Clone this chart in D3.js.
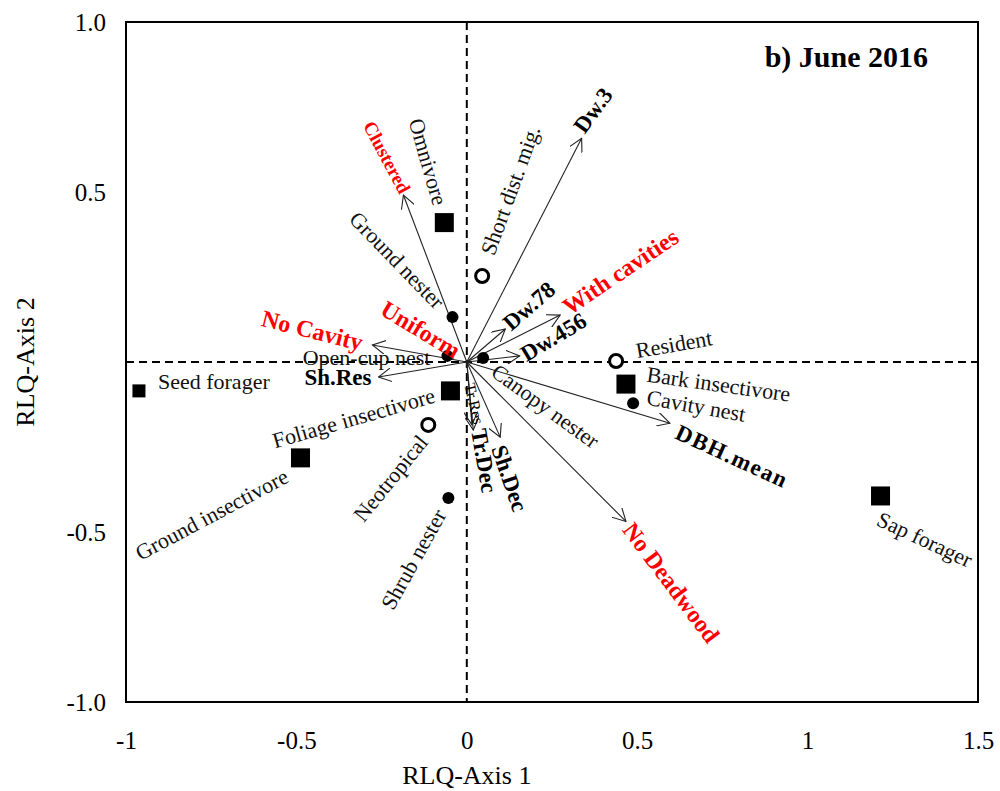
<!DOCTYPE html>
<html>
<head>
<meta charset="utf-8">
<script src="https://cdn.jsdelivr.net/npm/d3@7"></script>
<style>
  body { margin: 0; background: #fff; }
  text { font-family: "Liberation Serif", "Times New Roman", serif; }
</style>
</head>
<body>
<div id="chart"></div>
<script>
// species traits (Q table scores)
const traitNames = ["Omnivore", "Foliage insectivore", "Ground insectivore", "Bark insectivore", "Sap forager", "Seed forager",
  "Short dist. mig.", "Neotropical", "Resident",
  "Ground nester", "Open-cup nest", "Canopy nester", "Cavity nest", "Shrub nester"];
const traitAxis1 = [-0.066, -0.048, -0.488, 0.467, 1.214, -0.962, 0.045, -0.113, 0.438, -0.042, -0.057, 0.048, 0.488, -0.054];
const traitAxis2 = [0.41, -0.085, -0.282, -0.065, -0.394, -0.085, 0.253, -0.185, 0.003, 0.132, 0.018, 0.012, -0.121, -0.4];
const traitGroup = ["diet", "diet", "diet", "diet", "diet", "diet", "migration", "migration", "migration",
  "nest", "nest", "nest", "nest", "nest"];

// environmental variables (R table vectors)
const envNames = ["Dw.3", "With cavities", "Dw.78", "Dw.456", "DBH.mean", "No Deadwood", "Sh.Dec", "Tr.Dec", "Tr.Res",
  "Sh.Res", "No Cavity", "Clustered", "Uniform"];
const envAxis1 = [0.337, 0.274, 0.113, 0.155, 0.596, 0.467, 0.098, 0.019, 0.015, -0.259, -0.277, -0.186, 0];
const envAxis2 = [0.658, 0.138, 0.097, 0.018, -0.18, -0.469, -0.221, -0.2, -0.185, -0.044, 0.05, 0.491, 0];
const envKind = ["numeric", "factor", "numeric", "numeric", "numeric", "factor", "numeric", "numeric", "numeric",
  "numeric", "factor", "factor", "factor"];

const xTicks = [-1, -0.5, 0, 0.5, 1, 1.5];
const yTicks = [1, 0.5, -0.5, -1];

const width = 1000;
const height = 791;
const margin = { top: 22, right: 22, bottom: 89, left: 126 };

// label placement: [dx, dy, angle, anchor] from the mark in pixels
const traitLabelPos = {
  "Omnivore": [-4, -18, 74, "end"],
  "Foliage insectivore": [-16, 4, -16, "end"],
  "Ground insectivore": [-14, 17, -28, "end"],
  "Bark insectivore": [21, -10, 8, "start"],
  "Sap forager": [-2, 22, 25, "start"],
  "Seed forager": [19, -9, 0, "start"],
  "Short dist. mig.": [5, -22, -70, "start"],
  "Neotropical": [-5, 13, -51, "end"],
  "Resident": [20, -10, -10, "start"],
  "Ground nester": [-12, -12, 46, "end"],
  "Open-cup nest": [-17, 2, 0, "end"],
  "Canopy nester": [11, 11, 36, "start"],
  "Cavity nest": [14, -6, 10, "start"],
  "Shrub nester": [-8, 13, -61, "end"]
};
const envLabelPos = {
  "Dw.3": [-3, -8, -54, "start"],
  "With cavities": [5, -6, -34, "start"],
  "Dw.78": [1, -3, -41, "start"],
  "Dw.456": [3, 0, -31, "start"],
  "DBH.mean": [7, 8, 24.6, "start"],
  "No Deadwood": [2, 4, 53, "start"],
  "Sh.Dec": [-2, 9, 71, "start"],
  "Tr.Dec": [5, -1, 80, "start"],
  "Tr.Res": [7, -1, 77, "end"],
  "Sh.Res": [-7, 1, 0, "end"],
  "No Cavity": [-10, -2, 14, "end"],
  "Clustered": [2, -3, 62, "end"],
  "Uniform": [-84, -55, 31, "start"]
};

const x = d3.scaleLinear().domain([-1, 1.5]).range([margin.left, width - margin.right]);
const y = d3.scaleLinear().domain([-1, 1]).range([height - margin.bottom, margin.top]);

const svg = d3.select("#chart").append("svg").attr("width", width).attr("height", height);

// arrow head
svg.append("defs").append("marker")
  .attr("id", "head")
  .attr("markerUnits", "userSpaceOnUse")
  .attr("viewBox", "0 0 14 14")
  .attr("refX", 13).attr("refY", 7)
  .attr("markerWidth", 14).attr("markerHeight", 14)
  .attr("orient", "auto")
  .append("path")
  .attr("d", "M0,0 L13,7 L0,14")
  .attr("fill", "none")
  .attr("stroke", "#222")
  .attr("stroke-width", 1.1);

// axes
const xAxis = svg.append("g")
  .attr("transform", `translate(0,${y(-1)})`)
  .call(d3.axisBottom(x).tickValues(xTicks).tickSize(0).tickFormat((d) => String(d)));
xAxis.select(".domain").remove();
xAxis.selectAll("text").attr("y", 38).attr("dy", "0.35em").attr("font-size", 25).attr("fill", "#000");

const yAxis = svg.append("g")
  .attr("transform", `translate(${x(-1)},0)`)
  .call(d3.axisLeft(y).tickValues(yTicks).tickSize(0).tickPadding(20).tickFormat((d) => d.toFixed(1)));
yAxis.select(".domain").remove();
yAxis.selectAll("text").attr("font-size", 25).attr("fill", "#000");

// small tick at y = 0
svg.append("line")
  .attr("x1", x(-1)).attr("x2", x(-1) + 5)
  .attr("y1", y(0)).attr("y2", y(0))
  .attr("stroke", "#000").attr("stroke-width", 1.5);

// dashed zero lines
svg.append("line")
  .attr("x1", x(0)).attr("x2", x(0))
  .attr("y1", y(1)).attr("y2", y(-1))
  .attr("stroke", "#000").attr("stroke-width", 2).attr("stroke-dasharray", "8,5");
svg.append("line")
  .attr("x1", x(-1)).attr("x2", x(1.5))
  .attr("y1", y(0)).attr("y2", y(0))
  .attr("stroke", "#000").attr("stroke-width", 2).attr("stroke-dasharray", "8,5");

// frame
svg.append("rect")
  .attr("x", x(-1)).attr("y", y(1))
  .attr("width", x(1.5) - x(-1)).attr("height", y(-1) - y(1))
  .attr("fill", "none").attr("stroke", "#000").attr("stroke-width", 2);

// axis titles
svg.append("text")
  .attr("x", x(0)).attr("y", 775)
  .attr("text-anchor", "middle").attr("dominant-baseline", "central")
  .attr("font-size", 26).text("RLQ-Axis 1");
svg.append("text")
  .attr("transform", `translate(25,${y(0)}) rotate(-90)`)
  .attr("text-anchor", "middle").attr("dominant-baseline", "central")
  .attr("font-size", 26).text("RLQ-Axis 2");

// title
svg.append("text")
  .attr("x", 928).attr("y", 67)
  .attr("text-anchor", "end")
  .attr("font-size", 30).attr("font-weight", "bold")
  .text("b) June 2016");

// environmental vectors
const envData = envNames.map((name, i) => ({ name, a1: envAxis1[i], a2: envAxis2[i], kind: envKind[i] }));

svg.append("g").selectAll("line")
  .data(envData.filter((d) => Math.hypot(d.a1, d.a2) > 0.01))
  .join("line")
  .attr("x1", x(0)).attr("y1", y(0))
  .attr("x2", (d) => x(d.a1)).attr("y2", (d) => y(d.a2))
  .attr("stroke", "#222").attr("stroke-width", 1.1)
  .attr("marker-end", "url(#head)");

// trait points
const traitData = traitNames.map((name, i) => ({ name, a1: traitAxis1[i], a2: traitAxis2[i], group: traitGroup[i] }));
const pts = svg.append("g");

pts.selectAll("rect")
  .data(traitData.filter((d) => d.group === "diet"))
  .join("rect")
  .each(function (d) {
    const s = d.name === "Seed forager" ? 13 : 19;
    d3.select(this)
      .attr("x", x(d.a1) - s / 2).attr("y", y(d.a2) - s / 2)
      .attr("width", s).attr("height", s);
  })
  .attr("fill", "#000");

pts.selectAll("circle.mig")
  .data(traitData.filter((d) => d.group === "migration"))
  .join("circle")
  .attr("class", "mig")
  .attr("cx", (d) => x(d.a1)).attr("cy", (d) => y(d.a2))
  .attr("r", 6.5)
  .attr("fill", "#fff").attr("stroke", "#000").attr("stroke-width", 3);

pts.selectAll("circle.nest")
  .data(traitData.filter((d) => d.group === "nest"))
  .join("circle")
  .attr("class", "nest")
  .attr("cx", (d) => x(d.a1)).attr("cy", (d) => y(d.a2))
  .attr("r", 6)
  .attr("fill", "#000");

// labels
function placeLabel(sel, px, py, pos) {
  sel.attr("transform", `translate(${px + pos[0]},${py + pos[1]}) rotate(${pos[2]})`)
    .attr("text-anchor", pos[3])
    .attr("dominant-baseline", "central");
}

svg.append("g").selectAll("text")
  .data(traitData)
  .join("text")
  .each(function (d) {
    placeLabel(d3.select(this), x(d.a1), y(d.a2), traitLabelPos[d.name]);
  })
  .attr("font-size", 22)
  .attr("fill", "#111")
  .text((d) => d.name);

svg.append("g").selectAll("text")
  .data(envData)
  .join("text")
  .each(function (d) {
    placeLabel(d3.select(this), x(d.a1), y(d.a2), envLabelPos[d.name]);
  })
  .attr("font-size", (d) => (d.name === "Clustered" ? 19 : d.name === "Tr.Res" ? 16 : d.kind === "factor" ? 24 : 23))
  .attr("font-weight", (d) => (d.name === "Tr.Res" ? "normal" : "bold"))
  .attr("letter-spacing", (d) => (d.name === "DBH.mean" ? 1.5 : 0))
  .attr("fill", (d) => (d.kind === "factor" ? "#ff0000" : "#000"))
  .text((d) => d.name);
</script>
</body>
</html>
